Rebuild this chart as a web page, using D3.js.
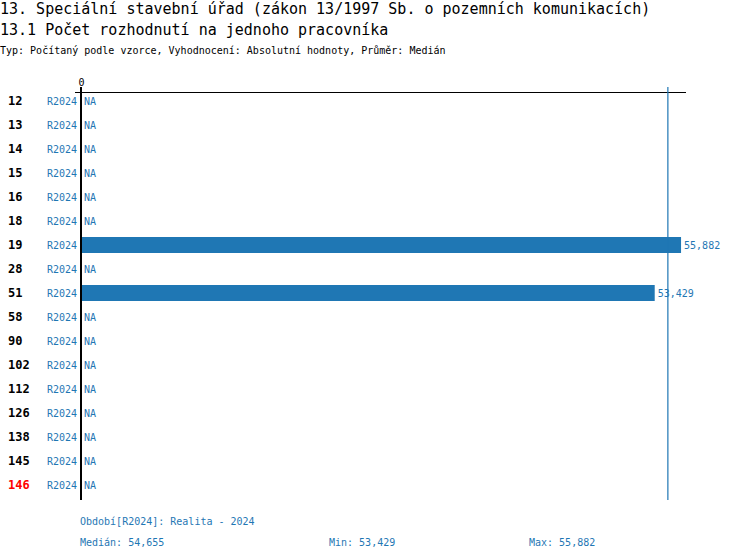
<!DOCTYPE html>
<html>
<head>
<meta charset="utf-8">
<script src="https://cdn.jsdelivr.net/npm/d3@7"></script>
<style>
  body { margin: 0; background: #fff; }
  text { font-family: "DejaVu Sans Mono", "Liberation Mono", monospace; }
</style>
</head>
<body>
<div id="chart"></div>
<script>
let width = 750
let height = 560
let blue = "#1f77b4"

// data
let categories = ["12","13","14","15","16","18","19","28","51","58","90","102","112","126","138","145","146"]
let periodLabel = "R2024"
let values = [null,null,null,null,null,null,55882,null,53429,null,null,null,null,null,null,null,null]
let highlighted = ["146"]
let median = 54655
let minVal = 53429
let maxVal = 55882
let xMax = 56250

let fmt = d3.format(",")

const svg = d3.select("#chart").append("svg").attr("width",width).attr("height",height)

// titles
svg.append("text").attr("x",0).attr("y",14).attr("font-size",15).text("13. Speciální stavební úřad (zákon 13/1997 Sb. o pozemních komunikacích)")
svg.append("text").attr("x",0).attr("y",35).attr("font-size",15).text("13.1 Počet rozhodnutí na jednoho pracovníka")
svg.append("text").attr("x",0).attr("y",54).attr("font-size",10).text("Typ: Počítaný podle vzorce, Vyhodnocení: Absolutní hodnoty, Průměr: Medián")

const x = d3.scaleLinear().domain([0, xMax]).range([81, 685])
const y = d3.scaleBand().domain(categories).range([89, 497]).paddingInner(1/3).paddingOuter(1/6)

// top axis with only the zero tick
const axis = svg.append("g").attr("transform","translate(0,92)")
  .call(d3.axisTop(x).tickValues([0]).tickSize(0).tickSizeOuter(0))
axis.select(".domain").remove()
axis.selectAll(".tick text").attr("font-family","DejaVu Sans Mono").attr("font-size",10).attr("dy","-3").attr("fill","#000")
svg.append("line").attr("x1",x(0)-6).attr("x2",x.range()[1]+1).attr("y1",92.5).attr("y2",92.5)
  .attr("stroke","#000").attr("stroke-width",1)

// bars
svg.selectAll("rect.bar").data(categories.map((c,i) => ({c:c, v:values[i]})).filter(d => d.v != null))
  .enter().append("rect").attr("class","bar")
  .attr("x", x(0)).attr("y", d => y(d.c)).attr("height", y.bandwidth())
  .attr("width", d => x(d.v) - x(0)).attr("fill", blue)

// median line
svg.append("line").attr("x1",x(median)).attr("x2",x(median)).attr("y1",87).attr("y2",500)
  .attr("stroke",blue).attr("stroke-width",1.2)

// zero axis line
svg.append("line").attr("x1",x(0)).attr("x2",x(0)).attr("y1",87).attr("y2",500)
  .attr("stroke","#000").attr("stroke-width",2)

// row labels
let rows = svg.selectAll("g.row").data(categories).enter().append("g").attr("class","row")
  .attr("transform", d => `translate(0,${y(d) + y.bandwidth()/2})`)

rows.append("text").attr("x",8).attr("dy","0.35em").attr("font-size",12).attr("font-weight","bold")
  .attr("fill", d => highlighted.includes(d) ? "#ff0000" : "#000").text(d => d)

rows.append("text").attr("x",77).attr("dy","0.35em").attr("font-size",10).attr("text-anchor","end")
  .attr("fill",blue).text(periodLabel)

rows.append("text").attr("dy","0.35em").attr("font-size",10).attr("fill",blue)
  .attr("x", (d,i) => values[i] == null ? x(0) + 3 : x(values[i]) + 3)
  .text((d,i) => values[i] == null ? "NA" : fmt(values[i]))

// footer
svg.append("text").attr("x",80).attr("y",525).attr("font-size",10).attr("fill",blue).text("Období[R2024]: Realita - 2024")
svg.append("text").attr("x",80).attr("y",546).attr("font-size",10).attr("fill",blue).text("Medián: " + fmt(median))
svg.append("text").attr("x",329).attr("y",546).attr("font-size",10).attr("fill",blue).text("Min: " + fmt(minVal))
svg.append("text").attr("x",529).attr("y",546).attr("font-size",10).attr("fill",blue).text("Max: " + fmt(maxVal))
</script>
</body>
</html>
